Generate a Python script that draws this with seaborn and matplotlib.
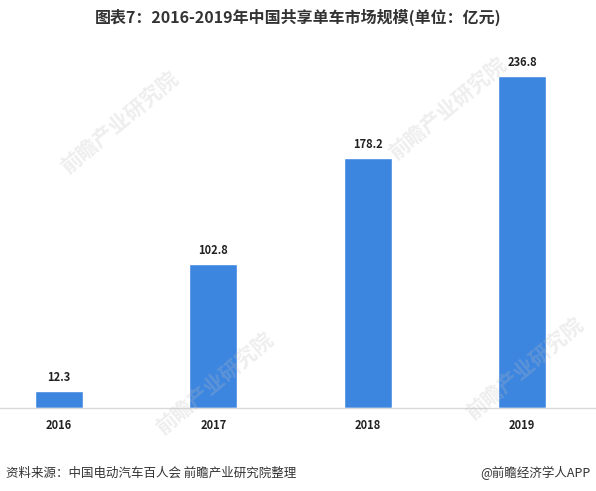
import matplotlib.pyplot as plt
import seaborn as sns
import pandas as pd

years = ["2016", "2017", "2018", "2019"]
market_size = [12.3, 102.8, 178.2, 236.8]

df = pd.DataFrame({"year": years, "size": market_size})

sns.set_style("white")
plt.rcParams['font.family'] = ['Noto Sans CJK SC', 'DejaVu Sans']

fig = plt.figure(figsize=(5.96, 4.91), dpi=100)
ax = fig.add_axes([0.0, 0.169, 1.0, 0.714])

sns.barplot(data=df, x="year", y="size", color="#3D86E0", width=0.31,
            saturation=1, ax=ax)

ax.set_xlim(-0.382, 3.48)
ax.set_ylim(0, 250)
for i, v in enumerate(market_size):
    ax.text(i, v + 5, f"{v}", ha="center", va="bottom", fontsize=8,
            fontweight="bold", color="#222222")

ax.set_xlabel("")
ax.set_ylabel("")
ax.set_yticks([])
ax.tick_params(axis="x", length=0, pad=8)
for lab in ax.get_xticklabels():
    lab.set_fontweight("bold")
    lab.set_fontsize(8)
    lab.set_color("#222222")
for s in ["top", "left", "right"]:
    ax.spines[s].set_visible(False)
ax.spines["bottom"].set_color("#d9d9d9")
ax.spines["bottom"].set_linewidth(1)

# faint watermarks
for (wx, wy) in [(0.2, 0.75), (0.36, 0.22), (0.75, 0.78), (0.88, 0.25)]:
    fig.text(wx, wy, "前瞻产业研究院", rotation=40, fontsize=15, color="#bbbbbb",
             alpha=0.25, ha="center", va="center", fontweight="bold")

fig.text(0.5, 0.965, "图表7：2016-2019年中国共享单车市场规模(单位：亿元)",
         ha="center", va="center", fontsize=11.5, fontweight="bold", color="#333333")
fig.text(0.01, 0.037, "资料来源：中国电动汽车百人会 前瞻产业研究院整理",
         ha="left", va="center", fontsize=9, color="#333333")
fig.text(0.99, 0.037, "@前瞻经济学人APP", ha="right", va="center",
         fontsize=9, color="#333333")

fig.savefig("out.png", dpi=100)
plt.close()
